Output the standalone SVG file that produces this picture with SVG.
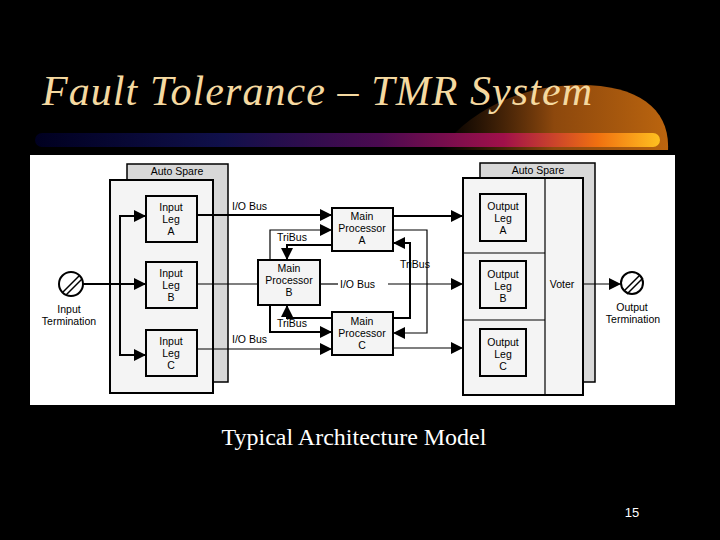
<svg xmlns="http://www.w3.org/2000/svg" width="720" height="540" viewBox="0 0 720 540">
<defs>
<linearGradient id="bar" x1="0" x2="1" y1="0" y2="0">
<stop offset="0" stop-color="#000020"/><stop offset="0.3" stop-color="#10104a"/><stop offset="0.55" stop-color="#4a0a50"/><stop offset="0.75" stop-color="#a0104a"/><stop offset="0.9" stop-color="#f07010"/><stop offset="1" stop-color="#ffc020"/>
</linearGradient>
<linearGradient id="glow" x1="0" x2="1" y1="0" y2="0">
<stop offset="0" stop-color="#804010" stop-opacity="0"/><stop offset="0.5" stop-color="#b05a10" stop-opacity="0.8"/><stop offset="1" stop-color="#d07010" stop-opacity="0.9"/>
</linearGradient>
<marker id="a" viewBox="0 0 10 10" refX="10" refY="5" markerWidth="12" markerHeight="12" orient="auto" markerUnits="userSpaceOnUse"><path d="M0,0L10,5L0,10z" fill="#000"/></marker>
</defs>
<style>
.t{font-family:"Liberation Sans",Arial,sans-serif;font-size:10.5px;fill:#000;text-anchor:middle}
.l{font-family:"Liberation Sans",Arial,sans-serif;font-size:10.5px;fill:#000}
.bx{fill:#f4f4f4;stroke:#000;stroke-width:2}
.back{fill:#d8d8d8;stroke:#000;stroke-width:1.5}
.w{fill:none;stroke:#000;stroke-width:1.2}
.k{fill:none;stroke:#000;stroke-width:2}
</style>
<rect width="720" height="540" fill="#000"/>
<path d="M440,150C470,110 520,85 580,85C640,85 670,110 668,150Z" fill="url(#glow)"/>
<rect x="35" y="133" width="625" height="14" rx="7" fill="url(#bar)"/>
<text x="42" y="105" font-family="Liberation Serif,serif" font-style="italic" font-size="42" fill="#f5d9a0" textLength="550">Fault Tolerance – TMR System</text>
<rect x="30" y="155" width="645" height="250" fill="#fff"/>

<g id="left-spare">
<rect class="back" x="127" y="164" width="101" height="218"/>
<text class="t" x="177" y="175">Auto Spare</text>
<rect class="bx" x="110" y="180" width="103" height="213" fill="#f6f6f6"/>
</g>
<g id="right-spare">
<rect class="back" x="480" y="163" width="115" height="219"/>
<text class="t" x="538" y="174">Auto Spare</text>
<rect class="bx" x="463" y="178" width="120" height="217"/>
<path class="w" d="M545,178V395M463,253H545M463,320H545"/>
<text class="t" x="562" y="288">Voter</text>
</g>
<g id="input-leg-a"><rect class="bx" x="146" y="196" width="51" height="46" fill="#fff"/><text class="t" x="171" y="211">Input</text><text class="t" x="171" y="223">Leg</text><text class="t" x="171" y="235">A</text></g>
<g id="input-leg-b"><rect class="bx" x="146" y="262" width="51" height="46" fill="#fff"/><text class="t" x="171" y="277">Input</text><text class="t" x="171" y="289">Leg</text><text class="t" x="171" y="301">B</text></g>
<g id="input-leg-c"><rect class="bx" x="146" y="330" width="51" height="46" fill="#fff"/><text class="t" x="171" y="345">Input</text><text class="t" x="171" y="357">Leg</text><text class="t" x="171" y="369">C</text></g>
<g id="output-leg-a"><rect class="bx" x="480" y="194" width="46" height="47" fill="#fff"/><text class="t" x="503" y="210">Output</text><text class="t" x="503" y="222">Leg</text><text class="t" x="503" y="234">A</text></g>
<g id="output-leg-b"><rect class="bx" x="480" y="261" width="46" height="47" fill="#fff"/><text class="t" x="503" y="278">Output</text><text class="t" x="503" y="290">Leg</text><text class="t" x="503" y="302">B</text></g>
<g id="output-leg-c"><rect class="bx" x="480" y="329" width="46" height="47" fill="#fff"/><text class="t" x="503" y="346">Output</text><text class="t" x="503" y="358">Leg</text><text class="t" x="503" y="370">C</text></g>
<g id="main-a"><rect class="bx" x="332" y="208" width="61" height="43"/><text class="t" x="362" y="220">Main</text><text class="t" x="362" y="232">Processor</text><text class="t" x="362" y="244">A</text></g>
<g id="main-b"><rect class="bx" x="258" y="260" width="62" height="45"/><text class="t" x="289" y="272">Main</text><text class="t" x="289" y="284">Processor</text><text class="t" x="289" y="296">B</text></g>
<g id="main-c"><rect class="bx" x="332" y="312" width="61" height="43"/><text class="t" x="362" y="325">Main</text><text class="t" x="362" y="337">Processor</text><text class="t" x="362" y="349">C</text></g>
<g id="input-term"><circle cx="71" cy="284" r="12" fill="#fff" stroke="#000" stroke-width="2"/><path d="M63,292L79,276M66,295L82,279" stroke="#000" stroke-width="1.5"/><text class="t" x="69" y="313">Input</text><text class="t" x="69" y="325">Termination</text></g>
<g id="output-term"><circle cx="632" cy="283" r="11" fill="#fff" stroke="#000" stroke-width="2"/><path d="M624,291L640,275M627,294L643,278" stroke="#000" stroke-width="1.5"/><text class="t" x="632" y="311">Output</text><text class="t" x="633" y="323">Termination</text></g>

<g id="connectors">
<path class="k" d="M83,284H146" marker-end="url(#a)"/>
<path class="k" d="M146,216H120V355H146" marker-end="url(#a)"/>
<path class="k" d="M120,216H146" marker-end="url(#a)"/>
<path class="k" d="M197,215H332" marker-end="url(#a)"/>
<path class="w" d="M197,284H258"/>
<path class="w" d="M197,349H332" marker-end="url(#a)"/>
<path class="w" d="M270,260V230H332" marker-end="url(#a)"/>
<path class="k" d="M332,245H287V260" marker-end="url(#a)"/>
<path class="k" d="M270,305V332H332" marker-end="url(#a)"/>
<path class="k" d="M332,318H287V305" marker-end="url(#a)"/>
<path class="w" d="M320,284H338"/>
<path class="w" d="M388,284H463" marker-end="url(#a)"/>
<path class="k" d="M393,216H463" marker-end="url(#a)"/>
<path class="w" d="M393,230H427V333H393" marker-end="url(#a)"/>
<path class="k" d="M393,318H410V243H393" marker-end="url(#a)"/>
<path class="w" d="M393,348H463" marker-end="url(#a)"/>
<path class="w" d="M583,284H621" marker-end="url(#a)"/>
<text class="l" x="232" y="210">I/O Bus</text>
<text class="l" x="232" y="343">I/O Bus</text>
<text class="l" x="277" y="241">TriBus</text>
<text class="l" x="277" y="327">TriBus</text>
<text class="l" x="340" y="288">I/O Bus</text>
<text class="l" x="400" y="268">TriBus</text>
</g>
<text x="354" y="445" font-family="Liberation Serif,serif" font-size="24" fill="#fff" text-anchor="middle">Typical Architecture Model</text>
<text x="632" y="517" font-family="Liberation Sans,sans-serif" font-size="13" fill="#fff" text-anchor="middle">15</text>
</svg>
